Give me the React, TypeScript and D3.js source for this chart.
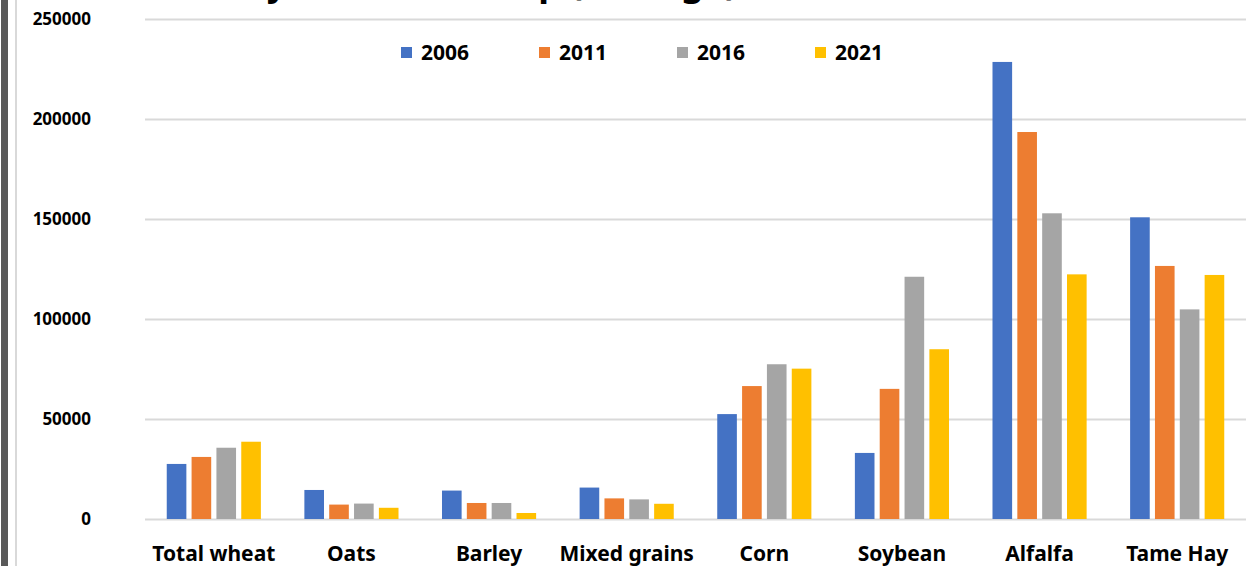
import React, { useEffect, useRef } from "react";
import * as d3 from "d3";

const categories = ["Total wheat", "Oats", "Barley", "Mixed grains", "Corn", "Soybean", "Alfalfa", "Tame Hay"];
const seriesNames = ["2006", "2011", "2016", "2021"];
const values2006 = [27500, 14500, 14200, 15700, 52400, 33000, 228300, 150700];
const values2011 = [31000, 7200, 8000, 10300, 66400, 65000, 193300, 126400];
const values2016 = [35600, 7700, 8000, 9800, 77300, 121000, 152700, 104700];
const values2021 = [38600, 5600, 3000, 7600, 75100, 84800, 122200, 121900];
const yTicks = [0, 50000, 100000, 150000, 200000, 250000];
const colors = ["#4472C4", "#ED7D31", "#A5A5A5", "#FFC000"];
const titleText = "Dairy farm field crop (acreage), 2006-2021";

const W = 1255, H = 566;

export default function App() {
  const ref = useRef<SVGSVGElement>(null);
  useEffect(() => {
    const svg = d3.select(ref.current);
    svg.selectAll("*").remove();
    const font = "'Noto Sans', 'Open Sans', sans-serif";
    const allValues = [values2006, values2011, values2016, values2021];

    svg.append("rect").attr("width", W).attr("height", H).attr("fill", "#fff");
    // left borders
    svg.append("rect").attr("x", 1).attr("y", 0).attr("width", 7).attr("height", H).attr("fill", "#595959");
    svg.append("rect").attr("x", 15).attr("y", 0).attr("width", 2).attr("height", H).attr("fill", "#d9d9d9");

    const left = 145, right = 1246;
    const y = d3.scaleLinear().domain([0, 250000]).range([519, 18.5]);
    const x0 = d3.scaleBand<string>().domain(categories).range([left, right]).paddingInner(0.316).paddingOuter(0.158);
    const x1 = d3.scaleBand<string>().domain(seriesNames).range([0, x0.bandwidth()]).paddingInner(0.21).paddingOuter(0);

    // title (cut off at top, as in the reference)
    svg.append("text").attr("x", 192).attr("y", -5).attr("font-family", font).attr("font-weight", 700)
      .attr("font-size", 36).attr("fill", "#000").text(titleText);

    // gridlines
    svg.append("g").selectAll("line").data(yTicks).join("line")
      .attr("x1", left).attr("x2", right)
      .attr("y1", d => Math.round(y(d)) + 0.5).attr("y2", d => Math.round(y(d)) + 0.5)
      .attr("stroke", "#d9d9d9").attr("stroke-width", 2);

    // y labels
    svg.append("g").selectAll("text").data(yTicks).join("text")
      .attr("x", 91).attr("y", d => y(d)).attr("dy", "0.36em")
      .attr("text-anchor", "end").attr("font-family", font).attr("font-weight", 700)
      .attr("font-size", 17).attr("fill", "#000").text(d => String(d));

    // bars
    const groups = svg.append("g").selectAll("g").data(categories).join("g")
      .attr("transform", d => `translate(${x0(d)},0)`);
    groups.selectAll("rect").data((c) => seriesNames.map((s, si) => ({ s, si, v: allValues[si][categories.indexOf(c)] })))
      .join("rect")
      .attr("x", d => x1(d.s)!)
      .attr("width", x1.bandwidth())
      .attr("y", d => y(d.v))
      .attr("height", d => y(0) - y(d.v))
      .attr("fill", d => colors[d.si]);

    // category labels
    svg.append("g").selectAll("text").data(categories).join("text")
      .attr("x", d => x0(d)! + x0.bandwidth() / 2).attr("y", 561)
      .attr("text-anchor", "middle").attr("font-family", font).attr("font-weight", 700)
      .attr("font-size", 21).attr("fill", "#000").text(d => d);

    // legend
    const lg = svg.append("g").selectAll("g").data(seriesNames).join("g")
      .attr("transform", (d, i) => `translate(${401 + i * 138},47)`);
    lg.append("rect").attr("width", 11).attr("height", 11).attr("fill", (d, i) => colors[i]);
    lg.append("text").attr("x", 20).attr("y", 13).attr("font-family", font).attr("font-weight", 700)
      .attr("font-size", 21).attr("fill", "#000").text(d => d);
  }, []);
  return (
    <svg ref={ref} width={W} height={H} style={{ position: "absolute", left: 0, top: 0, display: "block" }} />
  );
}
